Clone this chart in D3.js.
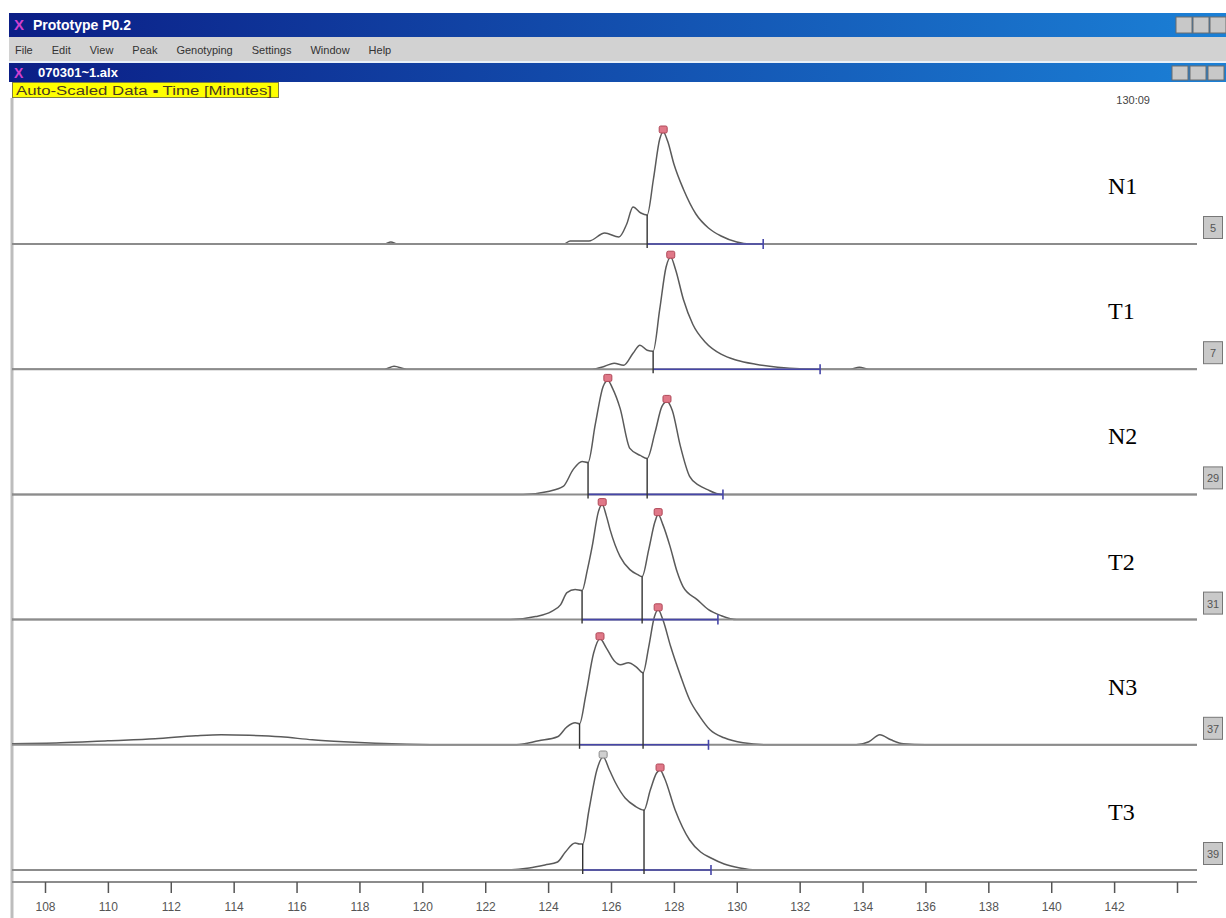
<!DOCTYPE html>
<html>
<head>
<meta charset="utf-8">
<script src="https://cdn.jsdelivr.net/npm/d3@7"></script>
<style>
body { margin: 0; background: #fff; }
svg { display: block; }
</style>
</head>
<body>
<div id="chart"></div>
<script>
// sample names, channel numbers in the grey boxes
var samples = ["N1", "T1", "N2", "T2", "N3", "T3"];
var channels = ["5", "7", "29", "31", "37", "39"];
var menuItems = ["File", "Edit", "View", "Peak", "Genotyping", "Settings", "Window", "Help"];
var tickValues = [108, 110, 112, 114, 116, 118, 120, 122, 124, 126, 128, 130, 132, 134, 136, 138, 140, 142, 144];
var tickLabels = ["108", "110", "112", "114", "116", "118", "120", "122", "124", "126", "128", "130", "132", "134", "136", "138", "140", "142", ""];

// traces: [time in minutes, signal]
var traceN1 = [[106.9,0],[118.8,0],[119.0,2],[119.2,0],[124.5,0],[124.7,3],[125.3,3],[125.8,11],[126.25,7],[126.5,20],[126.7,37],[126.95,31],[127.15,29],[127.35,65],[127.55,105],[127.66,112],[127.8,103],[128.0,80],[128.3,55],[128.7,30],[129.1,16],[129.5,8],[130.0,2],[130.4,0],[144.7,0]];
var traceT1 = [[106.9,0],[118.8,0],[119.1,3],[119.5,0],[125.4,0],[125.8,3],[126.1,6],[126.4,4],[126.7,16],[126.92,24],[127.15,19],[127.34,18],[127.55,60],[127.75,102],[127.9,112],[128.05,100],[128.3,70],[128.6,45],[129.0,27],[129.5,15],[130.0,9],[130.6,5],[131.3,2],[132.0,0.5],[133.6,0],[133.9,2],[134.2,0],[144.7,0]];
var traceN2 = [[106.9,0],[123.2,0],[124.0,3],[124.48,8],[124.8,25],[125.08,33],[125.27,32],[125.5,70],[125.75,108],[125.9,114],[126.05,106],[126.29,86],[126.6,46],[126.93,39],[127.15,36],[127.4,62],[127.62,88],[127.78,93],[127.95,84],[128.2,49],[128.5,18],[128.8,9],[129.05,5],[129.5,0],[144.7,0]];
var traceT2 = [[106.9,0],[122.8,0],[123.6,3],[124.1,8],[124.4,15],[124.6,27],[124.86,30],[125.08,29],[125.25,50],[125.4,73],[125.6,108],[125.72,115],[125.85,104],[125.97,90],[126.29,63],[126.6,50],[126.85,45],[126.99,43],[127.2,70],[127.4,98],[127.5,105],[127.65,95],[127.88,73],[128.1,48],[128.29,33],[128.74,20],[129.1,10],[129.5,4],[130.0,0],[144.7,0]];
var traceN3 = [[106.9,1],[108.5,2],[110.0,4],[111.5,6],[112.8,9],[113.6,10],[114.5,9.5],[115.5,8],[116.5,5],[117.5,3],[118.5,1.5],[119.5,0.5],[121.0,0],[123.0,0],[123.7,4],[124.3,8],[124.6,18],[124.86,22],[125.0,21],[125.2,50],[125.45,92],[125.65,106],[125.85,97],[126.1,84],[126.3,80],[126.55,82],[126.8,78],[127.02,72],[127.2,98],[127.38,128],[127.5,135],[127.65,125],[127.9,98],[128.2,70],[128.5,45],[128.83,28],[129.15,15],[129.6,7],[130.2,2],[131.0,0],[133.8,0],[134.2,3],[134.55,10],[134.9,5],[135.3,1],[136.0,0],[144.7,0]];
var traceT3 = [[106.9,0],[122.5,0],[123.4,2],[123.9,5],[124.3,8],[124.55,18],[124.86,27],[125.0,26],[125.1,26],[125.3,60],[125.55,100],[125.75,113],[125.95,100],[126.13,88],[126.45,72],[126.76,64],[127.05,60],[127.25,80],[127.45,97],[127.56,100],[127.7,92],[128.04,60],[128.5,30],[128.85,18],[129.18,12],[129.6,6],[130.1,2],[130.6,0],[144.7,0]];

// peak boundaries (drop lines, last one is the end tick)
var boundsN1 = [127.15, 130.84];
var boundsT1 = [127.34, 132.65];
var boundsN2 = [125.27, 127.15, 129.56];
var boundsT2 = [125.08, 126.99, 129.4];
var boundsN3 = [125.0, 127.02, 129.1];
var boundsT3 = [125.1, 127.05, 129.18];

// called peaks
var peaksN1 = [127.66];
var peaksT1 = [127.9];
var peaksN2 = [125.9, 127.78];
var peaksT2 = [125.72, 127.5];
var peaksN3 = [125.65, 127.5];
var peaksT3 = [125.75, 127.56];

var traces = [traceN1, traceT1, traceN2, traceT2, traceN3, traceT3];
var bounds = [boundsN1, boundsT1, boundsN2, boundsT2, boundsN3, boundsT3];
var peaks = [peaksN1, peaksT1, peaksN2, peaksT2, peaksN3, peaksT3];

var W = 1226, H = 918;
var left = 12, right = 1197;

var svg = d3.select("#chart").append("svg")
    .attr("width", W)
    .attr("height", H)
    .style("font-family", "'Liberation Sans', Arial, sans-serif");

// ---- window chrome ----
var defs = svg.append("defs");
var grad = defs.append("linearGradient").attr("id", "tbar").attr("x1", 0).attr("x2", 1);
grad.append("stop").attr("offset", 0).attr("stop-color", "#0b1e86");
grad.append("stop").attr("offset", 1).attr("stop-color", "#1b80d6");

svg.append("rect").attr("x", 9).attr("y", 13).attr("width", W - 9).attr("height", 24).attr("fill", "url(#tbar)");
svg.append("text").attr("x", 14).attr("y", 30).attr("fill", "#d040d0")
    .style("font-size", "15px").style("font-weight", "bold").text("X");
svg.append("text").attr("x", 33).attr("y", 30).attr("fill", "#fff")
    .style("font-size", "14px").style("font-weight", "bold").text("Prototype P0.2");

svg.append("rect").attr("x", 9).attr("y", 37).attr("width", W - 9).attr("height", 25).attr("fill", "#d2d2d2");
svg.append("rect").attr("x", 9).attr("y", 61).attr("width", W - 9).attr("height", 2).attr("fill", "#e8f0f8");

var mx = 15;
menuItems.forEach(function(m) {
    var t = svg.append("text").attr("x", mx).attr("y", 54).attr("fill", "#333")
        .style("font-size", "11px").text(m);
    mx += t.node().getComputedTextLength() + 19;
});

svg.append("rect").attr("x", 9).attr("y", 63).attr("width", W - 9).attr("height", 19).attr("fill", "url(#tbar)");
svg.append("text").attr("x", 14).attr("y", 78).attr("fill", "#d040d0")
    .style("font-size", "14px").style("font-weight", "bold").text("X");
svg.append("text").attr("x", 38).attr("y", 77).attr("fill", "#fff")
    .style("font-size", "13px").style("font-weight", "bold").text("070301~1.alx");

// title bar buttons
[[1176, 17, 16, 16], [1193, 17, 16, 16], [1210, 17, 16, 16], [1172, 66, 16, 14], [1190, 66, 16, 14], [1208, 66, 16, 14]].forEach(function(b) {
    svg.append("rect").attr("x", b[0]).attr("y", b[1]).attr("width", b[2]).attr("height", b[3])
        .attr("fill", "#c8c8c8").attr("stroke", "#6d6d6d");
});

// yellow status label
svg.append("rect").attr("x", 12.5).attr("y", 82.5).attr("width", 266).attr("height", 15)
    .attr("fill", "#ffff00").attr("stroke", "#808040");
svg.append("text").attr("x", 16).attr("y", 94.5).attr("fill", "#4a3a20")
    .attr("textLength", 256).attr("lengthAdjust", "spacingAndGlyphs")
    .style("font-size", "12px").text("Auto-Scaled Data \u25AA Time [Minutes]");

svg.append("text").attr("x", 1150).attr("y", 104).attr("text-anchor", "end").attr("fill", "#444")
    .style("font-size", "11px").text("130:09");

// left frame
svg.append("line").attr("x1", left).attr("x2", left).attr("y1", 98).attr("y2", H)
    .attr("stroke", "#bdbdbd").attr("stroke-width", 3);

// ---- scales ----
var x = d3.scaleLinear().domain([108, 144]).range([45, 1177]);
var row = d3.scalePoint().domain(samples).range([244, 870]);
var y = d3.scaleLinear().domain([0, 100]).range([0, -100]);

defs.append("clipPath").attr("id", "plot")
    .append("rect").attr("x", left).attr("y", 98).attr("width", right - left).attr("height", H - 98);

function valueAt(pts, t) {
    var i = d3.bisector(function(d) { return d[0]; }).left(pts, t);
    if (i <= 0) return pts[0][1];
    if (i >= pts.length) return pts[pts.length - 1][1];
    var a = pts[i - 1], b = pts[i];
    return a[1] + (b[1] - a[1]) * (t - a[0]) / (b[0] - a[0]);
}

var line = d3.line()
    .x(function(d) { return x(d[0]); })
    .y(function(d) { return y(d[1]); })
    .curve(d3.curveMonotoneX);

var clipped = svg.append("g").attr("clip-path", "url(#plot)");

samples.forEach(function(s, i) {
    var g = svg.append("g").attr("transform", "translate(0," + row(s) + ")");
    var gc = clipped.append("g").attr("transform", "translate(0," + row(s) + ")");
    var pts = traces[i], bd = bounds[i];

    // baseline
    g.append("line").attr("x1", left).attr("x2", right).attr("y1", 0).attr("y2", 0)
        .attr("stroke", "#8c8c8c").attr("stroke-width", 2);

    // called region along baseline
    g.append("line").attr("x1", x(bd[0])).attr("x2", x(bd[bd.length - 1])).attr("y1", 0).attr("y2", 0)
        .attr("stroke", "#4646a8").attr("stroke-width", 1.6);

    // trace
    gc.append("path").datum(pts).attr("d", line)
        .attr("fill", "none").attr("stroke", "#5a5a5a").attr("stroke-width", 1.5);

    // drop lines
    bd.slice(0, -1).forEach(function(t) {
        g.append("line").attr("x1", x(t)).attr("x2", x(t))
            .attr("y1", y(valueAt(pts, t))).attr("y2", 4)
            .attr("stroke", "#333").attr("stroke-width", 1.4);
    });
    // end tick
    var te = bd[bd.length - 1];
    g.append("line").attr("x1", x(te)).attr("x2", x(te)).attr("y1", -5).attr("y2", 5)
        .attr("stroke", "#4646a8").attr("stroke-width", 1.6);

    // peak markers
    peaks[i].forEach(function(t, k) {
        var grey = (s === "T3" && k === 0);
        g.append("rect").attr("x", x(t) - 4).attr("y", y(valueAt(pts, t)) - 6)
            .attr("width", 8).attr("height", 7).attr("rx", 1.5)
            .attr("fill", grey ? "#d0d0d0" : "#e07888")
            .attr("stroke", grey ? "#8a8a8a" : "#b04858").attr("stroke-width", 1);
    });

    // sample label
    g.append("text").attr("x", 1108).attr("y", -50)
        .style("font-family", "'Liberation Serif', 'Times New Roman', serif")
        .style("font-size", "24px").attr("fill", "#000").text(s);

    // channel box
    g.append("rect").attr("x", 1203.5).attr("y", -27.5).attr("width", 19).attr("height", 22)
        .attr("fill", "#c9c9c9").attr("stroke", "#777");
    g.append("text").attr("x", 1213).attr("y", -12).attr("text-anchor", "middle")
        .attr("fill", "#555").style("font-size", "11px").text(channels[i]);
});

// ---- time axis ----
var axisY = 882;
svg.append("line").attr("x1", left).attr("x2", right).attr("y1", axisY).attr("y2", axisY)
    .attr("stroke", "#8c8c8c").attr("stroke-width", 2);
var ax = svg.append("g").attr("transform", "translate(0," + axisY + ")")
    .call(d3.axisBottom(x).tickValues(tickValues)
        .tickFormat(function(d, i) { return tickLabels[i]; })
        .tickSize(11).tickPadding(9));
ax.select(".domain").remove();
ax.selectAll(".tick line").attr("stroke", "#555").attr("stroke-width", 1.5);
ax.selectAll(".tick text").attr("fill", "#555")
    .style("font-family", "'Liberation Sans', Arial, sans-serif").style("font-size", "12px");
</script>
</body>
</html>
